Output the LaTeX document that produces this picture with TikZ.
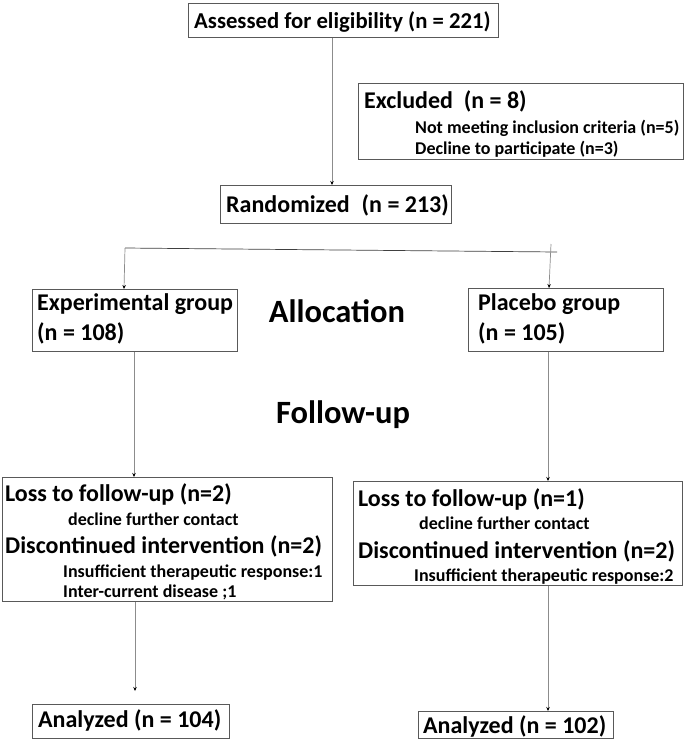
\documentclass[tikz,border=0pt]{standalone}
\usepackage{fontspec}
\setmainfont{Carlito}
\usetikzlibrary{arrows.meta,calc}
\begin{document}
\begin{tikzpicture}[x=1pt,y=-1pt,
  box/.style={draw=black!65,line width=0.8pt,inner sep=0pt,anchor=north west},
  conn/.style={draw=black!45,line width=0.7pt},
  arr/.style={conn,-{Stealth[length=4pt,width=3.5pt,black]}},
  big/.style={font=\fontsize{24}{28}\selectfont\bfseries,anchor=base west,inner sep=0pt},
  sm/.style={font=\fontsize{18}{21}\selectfont\bfseries,anchor=base west,inner sep=0pt},
  head/.style={font=\fontsize{32.5}{36}\selectfont\bfseries,anchor=base,inner sep=0pt}]
\useasboundingbox[fill=white] (0,0) rectangle (685,740);
% boxes
\node[box,minimum width=310pt,minimum height=34pt] (ass) at (188,3) {};
\node[box,minimum width=325pt,minimum height=76pt] (exc) at (358,83) {};
\node[box,minimum width=231pt,minimum height=38pt] (rnd) at (220,185) {};
\node[box,minimum width=205pt,minimum height=62pt] (exp) at (32,289) {};
\node[box,minimum width=195pt,minimum height=63pt] (plc) at (468,288) {};
\node[box,minimum width=330pt,minimum height=124pt] (lf) at (2,477) {};
\node[box,minimum width=329pt,minimum height=104pt] (rf) at (353,481) {};
\node[box,minimum width=197pt,minimum height=34pt] (la) at (32,704) {};
\node[box,minimum width=195pt,minimum height=27pt] (ra) at (418,711) {};
% texts
\node[big,font=\fontsize{22.7}{26}\selectfont\bfseries] (t1) at (194,28) {Assessed for eligibility (n = 221)};
\node[big] (t2) at (364,108) {Excluded\ \ (n = 8)};
\node[sm] (t3) at (415,133) {Not meeting inclusion criteria (n=5)};
\node[sm] (t4) at (415,154) {Decline to participate (n=3)};
\node[big] (t5) at (226,212) {Randomized\hspace{12pt}(n = 213)};
\node[big] (t6) at (37,310) {Experimental group};
\node[big] (t7) at (37,340) {(n = 108)};
\node[head] (t8) at (337,322) {Allocation};
\node[big] (t9) at (478,310) {Placebo group};
\node[big] (t10) at (478,340) {(n = 105)};
\node[head] (t11) at (343,423) {Follow-up};
\node[big] (t12) at (5,501) {Loss to follow-up (n=2)};
\node[sm] (t13) at (68,525) {decline further contact};
\node[big] (t14) at (5,553) {Discontinued intervention (n=2)};
\node[sm] (t15) at (63,577) {Insufficient therapeutic response:1};
\node[sm] (t16) at (63,597) {Inter-current disease ;1};
\node[big] (t17) at (358,506) {Loss to follow-up (n=1)};
\node[sm] (t18) at (419,529) {decline further contact};
\node[big] (t19) at (358,558) {Discontinued intervention (n=2)};
\node[sm] (t20) at (414,581) {Insufficient therapeutic response:2};
\node[big] (t21) at (38,727) {Analyzed (n = 104)};
\node[big] (t22) at (423,733) {Analyzed (n = 102)};
% connectors
\coordinate (c1) at (332,0);
\draw[arr] (c1 |- ass.south) -- (c1 |- rnd.north);
\coordinate (hl) at (125,248);
\coordinate (hr) at (557,252);
\draw[conn,draw=black!75] (hl) -- (hr);
\coordinate (el) at (124,0);
\draw[arr] (hl) -- (el |- exp.north);
\coordinate (rt) at (551,244);
\coordinate (pl) at (549,0);
\draw[arr] (rt) -- (pl |- plc.north);
\coordinate (c2) at (134,0);
\draw[arr] (c2 |- exp.south) -- (c2 |- lf.north);
\coordinate (c3) at (548,0);
\draw[arr] (c3 |- plc.south) -- (c3 |- rf.north);
\coordinate (c4) at (135,691);
\draw[arr] (c4 |- lf.south) -- (c4);
\draw[arr] (c3 |- rf.south) -- (c3 |- ra.north);
\end{tikzpicture}
\end{document}
